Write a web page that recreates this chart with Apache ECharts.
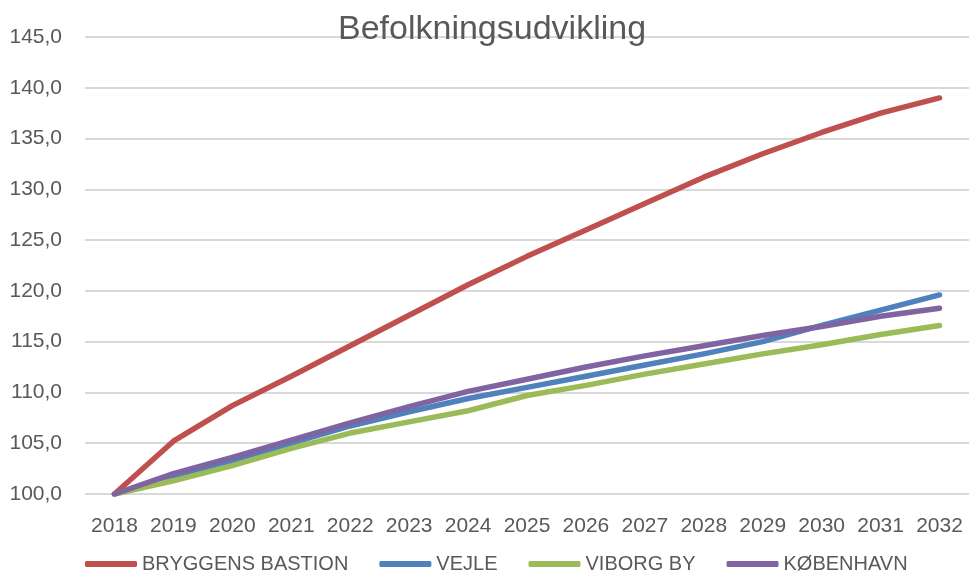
<!DOCTYPE html>
<html><head><meta charset="utf-8">
<script src="https://cdn.jsdelivr.net/npm/echarts@6/dist/echarts.min.js"></script>
<style>html,body{margin:0;padding:0;background:#fff}#c{width:969px;height:572px}</style>
</head><body><div id="c"></div>
<script>
const years = ['2018','2019','2020','2021','2022','2023','2024','2025','2026','2027','2028','2029','2030','2031','2032'];
const bryggensBastion = [100.0,105.2,108.7,111.6,114.6,117.6,120.6,123.4,126.0,128.6,131.2,133.5,135.6,137.5,139.0];
const vejle          = [100.0,101.7,103.3,105.0,106.7,108.1,109.4,110.5,111.6,112.7,113.8,115.0,116.6,118.1,119.6];
const viborgBy       = [100.0,101.3,102.8,104.5,106.0,107.1,108.2,109.7,110.7,111.8,112.8,113.8,114.7,115.7,116.6];
const koebenhavn     = [100.0,102.0,103.6,105.3,107.0,108.6,110.1,111.3,112.5,113.6,114.6,115.6,116.5,117.5,118.3];
const seriesNames = ['BRYGGENS BASTION','VEJLE','VIBORG BY','KØBENHAVN'];
const seriesColors = ['#C0504D','#4F81BD','#9BBB59','#8064A2'];
const FONT = '"Liberation Sans",Arial,sans-serif';
const chart = echarts.init(document.getElementById('c'));
const data = [bryggensBastion, vejle, viborgBy, koebenhavn];
chart.setOption({
  animation:false,
  title:{text:'Befolkningsudvikling',left:333,top:8,
    textStyle:{fontFamily:FONT,fontSize:34,fontWeight:'normal',color:'#595959'}},
  legend:{top:549,left:80,itemWidth:52,itemHeight:6,itemGap:31,
    icon:'roundRect',
    textStyle:{fontFamily:FONT,fontSize:20,color:'#595959'},
    data:seriesNames},
  grid:{left:85,top:37,width:887,height:457},
  xAxis:{type:'category',data:years,boundaryGap:true,
    axisLine:{show:false},axisTick:{show:false},
    axisLabel:{interval:0,fontFamily:FONT,fontSize:21,color:'#595959',margin:22}},
  yAxis:{type:'value',min:100,max:145,interval:5,
    axisLine:{show:false},axisTick:{show:false},
    splitLine:{lineStyle:{color:'#d9d9d9',width:2}},
    axisLabel:{fontFamily:FONT,fontSize:21,color:'#595959',margin:23,
      formatter:v=>v.toFixed(1).replace('.',',')}},
  series:data.map((d,i)=>({name:seriesNames[i],type:'line',data:d,
    symbol:'none',smooth:false,color:seriesColors[i],
    lineStyle:{width:5.5,color:seriesColors[i],cap:'round',join:'round'}}))
});
</script></body></html>
